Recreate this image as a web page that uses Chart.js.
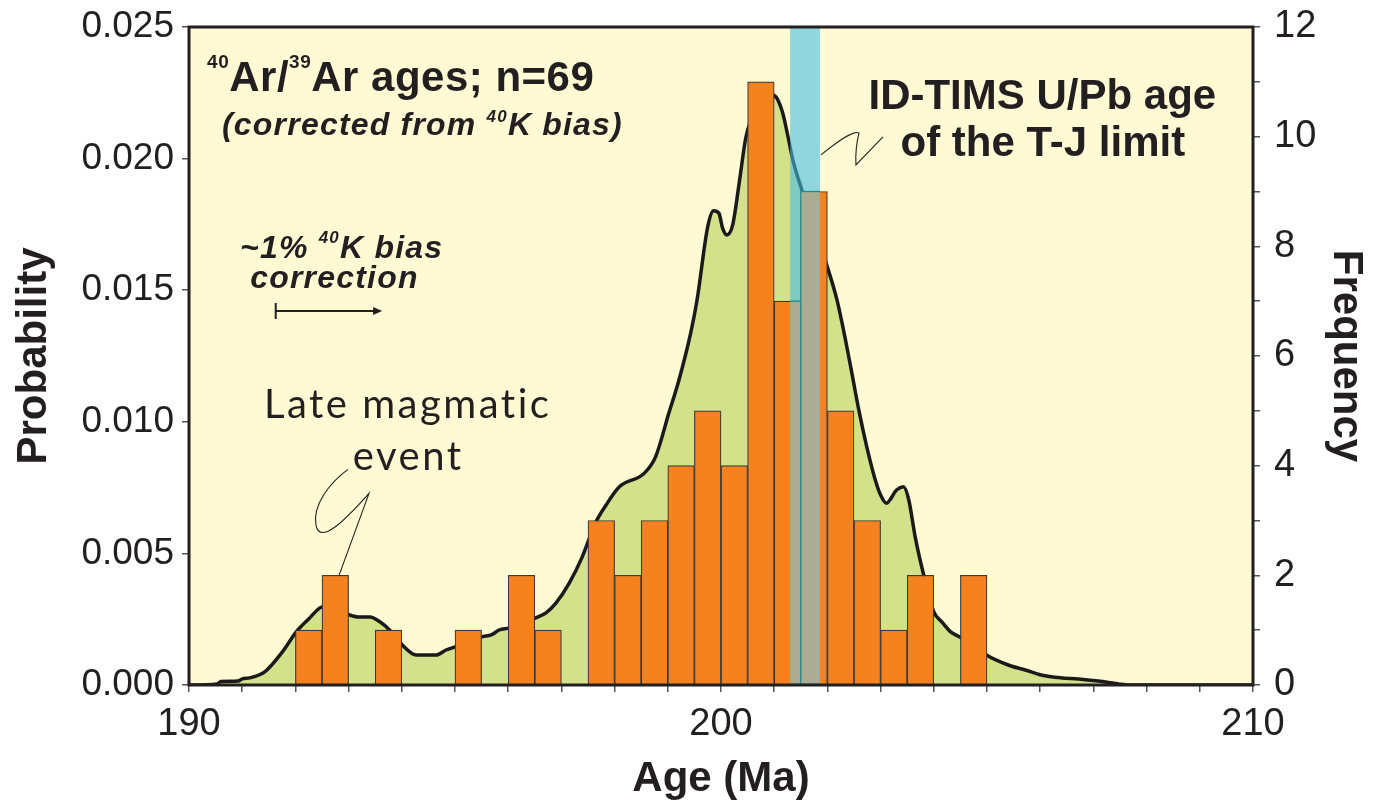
<!DOCTYPE html>
<html>
<head>
<meta charset="utf-8">
<script src="https://cdn.jsdelivr.net/npm/chart.js@4.4.1/dist/chart.umd.min.js"></script>
<style>
    html, body { margin: 0; padding: 0; background: #ffffff; }
    #wrap { width: 1391px; height: 809px; position: relative; }
</style>
</head>
<body>
<div id="wrap"><canvas id="grafico"></canvas></div>
<script>
"use strict"

//istogramma: inizio classe (0.5 Ma) e frequenza
const binStart = [192.0, 192.5, 193.0, 193.5, 194.0, 194.5, 195.0, 195.5, 196.0, 196.5, 197.0, 197.5, 198.0,
    198.5, 199.0, 199.5, 200.0, 200.5, 201.0, 201.5, 202.0, 202.5, 203.0, 203.5, 204.0, 204.5];
const binCount = [1, 2, 0, 1, 0, 0, 1, 0, 2, 1, 0, 3, 2,
    3, 4, 5, 4, 11, 7, 9, 5, 3, 1, 2, 0, 2];

//curva di probabilità
const kdeAge = [190.0, 190.53, 190.6, 190.92, 191.0, 191.14, 191.43, 191.76, 192.02, 192.27, 192.46, 192.6, 192.8,
    193.02, 193.21, 193.4, 193.58, 193.77, 194.01, 194.27, 194.65, 194.83, 195.02, 195.52, 195.68, 195.83,
    196.02, 196.52, 196.71, 196.9, 197.15, 197.39, 197.65, 197.84, 198.09, 198.56, 198.77, 199.02, 199.21,
    199.43, 199.55, 199.75, 199.86, 199.96, 200.03, 200.11, 200.22, 200.35, 200.47, 200.71, 200.86, 200.98,
    201.05, 201.16, 201.26, 201.35, 201.52, 201.74, 201.97, 202.18, 202.34, 202.46, 202.59, 202.74, 202.9,
    203.0, 203.11, 203.3, 203.43, 203.53, 203.65, 203.81, 204.0, 204.15, 204.31, 204.47, 204.75, 204.99,
    205.4, 205.72, 206.02, 206.4, 206.72, 207.09, 207.47, 207.65, 210.0];
const kdeProb = [0, 0.00004, 0.00013, 0.00015, 0.00023, 0.00027, 0.00051, 0.00127, 0.00203, 0.00255, 0.00293, 0.0030, 0.00285,
    0.00266, 0.00258, 0.00258, 0.00241, 0.00209, 0.00152, 0.00114, 0.00114, 0.00133, 0.00146, 0.00184, 0.0019, 0.00209,
    0.00217, 0.00255, 0.00274, 0.00312, 0.00388, 0.00486, 0.0062, 0.00684, 0.00753, 0.00805, 0.00867, 0.01033, 0.01159,
    0.01337, 0.01463, 0.01741, 0.01802, 0.01793, 0.01736, 0.0171, 0.01748, 0.01919, 0.02083, 0.02204, 0.02253, 0.02242,
    0.0223, 0.02173, 0.02083, 0.01995, 0.01881, 0.01748, 0.01607, 0.01463, 0.01311, 0.01185, 0.01045, 0.00905, 0.00779,
    0.00722, 0.00691, 0.00741, 0.00753, 0.00703, 0.00563, 0.00418, 0.00278, 0.0024, 0.00203, 0.00184, 0.00152, 0.00114,
    0.00076, 0.00057, 0.00038, 0.00027, 0.00023, 0.00015, 0.00004, 0, 0];

//assi
const ageLabels = [190, 200, 210];
const freqLabels = [0, 2, 4, 6, 8, 10, 12];

//età U/Pb del limite T-J (banda)
const tjBand = [201.3, 201.86];

const FONT = "'Liberation Sans', Arial, Helvetica, sans-serif";
const INK = "#231f20";

//costruisco i dataset
let barre = [];
for (let i = 0; i < binStart.length; i++) {
    if (binCount[i] > 0)
        barre.push({ x: binStart[i] + 0.25, y: binCount[i] });
}
let curva = kdeAge.map(function (a, i) { return { x: a, y: kdeProb[i] }; });

//testo con apici (r = [testo, font, spostamento verticale])
function scriviRuns(ctx, x, y, runs, align, spazio) {
    ctx.textAlign = "left";
    ctx.letterSpacing = (spazio || 0) + "px";
    let w = 0;
    runs.forEach(function (r) { ctx.font = r[1]; w += ctx.measureText(r[0]).width; });
    let cx = align == "center" ? x - w / 2 : x;
    runs.forEach(function (r) {
        ctx.font = r[1];
        ctx.fillText(r[0], cx, y + (r[2] || 0));
        cx += ctx.measureText(r[0]).width;
    });
    ctx.letterSpacing = "0px";
}

//niente margini extra calcolati dalle etichette
function fissa(s, w, h) {
    if (w) s.width = w;
    if (h) s.height = h;
    s.paddingTop = 0; s.paddingBottom = 0;
    s.paddingLeft = 0; s.paddingRight = 0;
}

const sfondo = {
    id: "sfondo",
    beforeDraw(chart) {
        const a = chart.chartArea, ctx = chart.ctx;
        ctx.save();
        ctx.fillStyle = "#fffad4";
        ctx.fillRect(a.left, a.top, a.right - a.left, a.bottom - a.top);
        ctx.restore();
    }
};

const banda = {
    id: "banda",
    afterDatasetsDraw(chart) {
        const ctx = chart.ctx, a = chart.chartArea, sx = chart.scales.x;
        const x0 = sx.getPixelForValue(tjBand[0]), x1 = sx.getPixelForValue(tjBand[1]);
        ctx.save();
        ctx.fillStyle = "rgba(70,190,230,0.6)";
        ctx.fillRect(x0, a.top, x1 - x0, a.bottom - a.top);
        ctx.beginPath();
        ctx.rect(x0, a.top, x1 - x0, a.bottom - a.top);
        ctx.clip();
        chart.getDatasetMeta(0).data.forEach(function (b) {
            const p = b.getProps(["x", "y", "base", "width"], true);
            const l = p.x - p.width / 2;
            ctx.fillStyle = "#acac94";
            ctx.fillRect(l, p.y, p.width, p.base - p.y);
            ctx.strokeStyle = "#1f8c8c";
            ctx.lineWidth = 1.3;
            ctx.strokeRect(l, p.y, p.width, p.base - p.y);
        });
        ctx.restore();
    }
};

const note = {
    id: "note",
    afterDraw(chart) {
        const ctx = chart.ctx, a = chart.chartArea;
        const sx = chart.scales.x, sy = chart.scales.y, sf = chart.scales.y2;
        const px = function (v) { return sx.getPixelForValue(v); };
        const py = function (v) { return sy.getPixelForValue(v); };

        //cornice
        ctx.save();
        ctx.strokeStyle = INK;
        ctx.lineWidth = 3;
        ctx.strokeRect(a.left, a.top, a.right - a.left, a.bottom - a.top);

        ctx.fillStyle = INK;
        ctx.textBaseline = "alphabetic";

        const big = "bold 42px " + FONT, supBig = "bold 19px " + FONT;
        const it = "italic bold 32px " + FONT, supIt = "italic bold 17px " + FONT;

        scriviRuns(ctx, px(190.34), py(0.02257), [["40", supBig, -23], ["Ar/", big], ["39", supBig, -23], ["Ar ages; n=69", big]], "left", 0.5);
        scriviRuns(ctx, px(190.62), py(0.0209), [["(corrected from ", it], ["40", supIt, -13], ["K bias)", it]], "left", 1.2);
        scriviRuns(ctx, px(190.96), py(0.01622), [["~1% ", it], ["40", supIt, -15], ["K bias", it]], "left", 1.2);
        scriviRuns(ctx, px(191.15), py(0.01508), [["correction", it]], "left", 1.2);

        //freccia correzione 40K
        const ay = py(0.01421), ax0 = px(191.63), ax1 = px(193.63);
        ctx.strokeStyle = INK;
        ctx.lineWidth = 2;
        ctx.beginPath();
        ctx.moveTo(ax0, ay - 8); ctx.lineTo(ax0, ay + 8);
        ctx.moveTo(ax0, ay); ctx.lineTo(ax1 - 6, ay);
        ctx.stroke();
        ctx.beginPath();
        ctx.moveTo(ax1, ay); ctx.lineTo(ax1 - 9, ay - 4); ctx.lineTo(ax1 - 9, ay + 4);
        ctx.closePath(); ctx.fill();

        //late magmatic event
        ctx.font = "40px Lato, 'Open Sans', sans-serif";
        scriviRuns(ctx, px(194.11), py(0.01014), [["Late magmatic", ctx.font]], "center", 2.5);
        scriviRuns(ctx, px(194.12), py(0.00817), [["event", "40px Lato, 'Open Sans', sans-serif"]], "center", 2.5);

        let sx0 = px(192.82), sy0 = sf.getPixelForValue(2);
        ctx.lineWidth = 1.1;
        ctx.beginPath();
        ctx.moveTo(sx0, sy0);
        ctx.lineTo(sx0 + 30, sy0 - 82);
        ctx.bezierCurveTo(sx0 + 6, sy0 - 55, sx0 - 19, sy0 - 30, sx0 - 23, sy0 - 50);
        ctx.bezierCurveTo(sx0 - 27, sy0 - 70, sx0 - 9, sy0 - 93, sx0 + 9, sy0 - 106);
        ctx.stroke();

        //ID-TIMS
        scriviRuns(ctx, px(206.04), py(0.02188), [["ID-TIMS U/Pb age", "bold 42px " + FONT]], "center");
        scriviRuns(ctx, px(206.05), py(0.0201), [["of the T-J limit", "bold 42px " + FONT]], "center");

        let tx = px(tjBand[1]) + 1, ty = py(0.02014);
        ctx.beginPath();
        ctx.moveTo(tx, ty);
        ctx.bezierCurveTo(tx + 15, ty - 12, tx + 32, ty - 25, tx + 38, ty - 22);
        ctx.quadraticCurveTo(tx + 34, ty - 5, tx + 35, ty + 10);
        ctx.lineTo(tx + 62, ty - 18);
        ctx.stroke();
        ctx.restore();
    }
};

const tickGrid = { display: true, drawOnChartArea: false, drawTicks: true, tickLength: 7, color: "#555", lineWidth: 1.5 };

new Chart($("grafico"), {
    type: "bar",
    data: {
        datasets: [{
            label: "Frequency",
            data: barre,
            yAxisID: "y2",
            backgroundColor: "#f5821f",
            borderColor: "#3a3a3a",
            borderWidth: 1.2,
            barPercentage: 1,
            categoryPercentage: 1,
            order: 1
        }, {
            type: "line",
            label: "Probability",
            data: curva,
            yAxisID: "y",
            borderColor: "#1a1a1a",
            borderWidth: 3.5,
            backgroundColor: "#d3e18b",
            fill: "origin",
            pointRadius: 0,
            cubicInterpolationMode: "monotone",
            order: 2
        }]
    },
    options: {
        responsive: true,
        maintainAspectRatio: false,
        animation: false,
        layout: { padding: { top: 27, left: 5, right: 16, bottom: 0 } },
        plugins: { legend: { display: false }, tooltip: { enabled: false } },
        scales: {
            x: {
                type: "linear",
                min: 190, max: 210,
                offset: false,
                afterFit: function (s) { fissa(s, 0, 124); },
                grid: Object.assign({}, tickGrid, { offset: false }),
                border: { display: false },
                ticks: {
                    stepSize: 1, autoSkip: false, maxRotation: 0, padding: 10, color: INK,
                    font: { family: FONT, size: 38 },
                    callback: function (v) { return ageLabels.includes(v) ? String(v) : ""; }
                },
                title: { display: true, text: "Age (Ma)", color: INK, font: { family: FONT, size: 42, weight: "bold" } }
            },
            y: {
                position: "left",
                min: 0, max: 0.025,
                afterFit: function (s) { fissa(s, 184, 0); },
                grid: tickGrid,
                border: { display: false },
                ticks: {
                    stepSize: 0.005, padding: 8, color: INK,
                    font: { family: FONT, size: 37 },
                    callback: function (v) { return v.toFixed(3); }
                },
                title: { display: true, text: "Probability", color: INK, font: { family: FONT, size: 42, weight: "bold" } }
            },
            y2: {
                position: "right",
                min: 0, max: 12,
                afterFit: function (s) { fissa(s, 122, 0); },
                grid: tickGrid,
                border: { display: false },
                ticks: {
                    stepSize: 1, autoSkip: false, padding: 14, color: INK,
                    font: { family: FONT, size: 38 },
                    callback: function (v) { return freqLabels.includes(v) ? String(v) : ""; }
                },
                title: { display: true, text: "Frequency", color: INK, font: { family: FONT, size: 42, weight: "bold" } }
            }
        }
    },
    plugins: [sfondo, banda, note]
});

function $(id) { return document.getElementById(id); }
</script>
</body>
</html>
